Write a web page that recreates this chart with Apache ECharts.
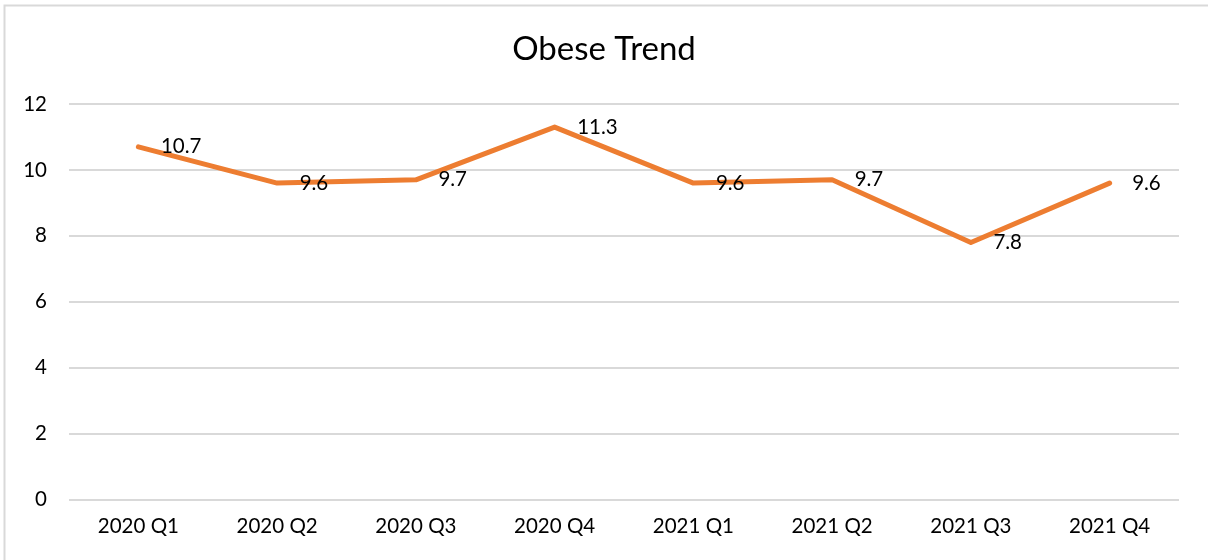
<!DOCTYPE html>
<html>
<head>
<meta charset="utf-8">
<title>Obese Trend</title>
<script src="https://cdn.jsdelivr.net/npm/echarts@6/dist/echarts.min.js"></script>
<style>
  html, body { margin: 0; padding: 0; background: #ffffff; }
  #chart { width: 1208px; height: 560px; }
</style>
</head>
<body>
<div id="chart"></div>
<script>
// Quarterly obesity rate
const quarters = ['2020 Q1', '2020 Q2', '2020 Q3', '2020 Q4', '2021 Q1', '2021 Q2', '2021 Q3', '2021 Q4'];
const obeseValues = [10.7, 9.6, 9.7, 11.3, 9.6, 9.7, 7.8, 9.6];
const yTicks = [0, 2, 4, 6, 8, 10, 12];

const FONT = 'Lato, "Open Sans", sans-serif';

const chart = echarts.init(document.getElementById('chart'), null, { renderer: 'canvas' });

chart.setOption({
  animation: false,
  backgroundColor: '#ffffff',
  title: {
    text: 'Obese Trend',
    left: 'center',
    top: 28,
    textStyle: { fontFamily: FONT, fontSize: 33, fontWeight: 'normal', color: '#000000' }
  },
  graphic: [{
    type: 'rect',
    shape: { x: 4.5, y: 5.5, width: 1210, height: 600 },
    style: { fill: 'none', stroke: '#d9d9d9', lineWidth: 2 },
    silent: true
  }],
  grid: { left: 69, right: 29, top: 104, bottom: 60.5 },
  xAxis: {
    type: 'category',
    data: quarters,
    boundaryGap: true,
    axisLine: { show: false },
    axisTick: { show: false },
    axisLabel: { fontFamily: FONT, fontSize: 20.5, color: '#000000', margin: 16 }
  },
  yAxis: {
    type: 'value',
    min: yTicks[0],
    max: yTicks[yTicks.length - 1],
    interval: 2,
    axisLine: { show: false },
    axisTick: { show: false },
    splitLine: { lineStyle: { color: '#d9d9d9', width: 2 } },
    axisLabel: { fontFamily: FONT, fontSize: 20.5, color: '#000000', margin: 22 }
  },
  series: [{
    type: 'line',
    data: obeseValues,
    symbol: 'circle',
    symbolSize: 1,
    showSymbol: true,
    itemStyle: { color: 'rgba(237,125,49,0)', borderWidth: 0 },
    lineStyle: { color: '#ed7d31', width: 5, cap: 'round', join: 'round' },
    label: {
      show: true,
      position: 'right',
      distance: 22,
      fontFamily: FONT,
      fontSize: 20.5,
      color: '#000000',
      formatter: p => p.value.toFixed(1)
    }
  }]
});
</script>
</body>
</html>
